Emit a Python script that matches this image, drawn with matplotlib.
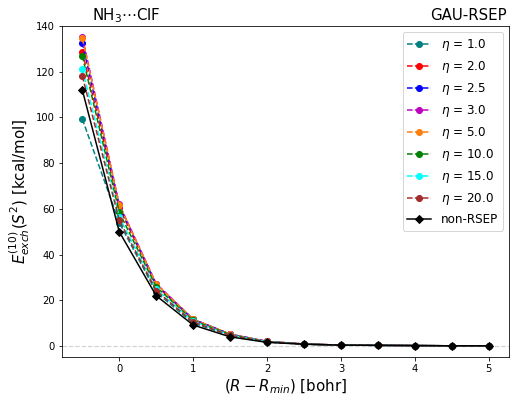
import numpy as np
import matplotlib
matplotlib.use("Agg")
import matplotlib.pyplot as plt

# distance from minimum [bohr]
r = [-0.5, 0.0, 0.5, 1.0, 1.5, 2.0, 2.5, 3.0, 3.5, 4.0, 4.5, 5.0]

etas = ["1.0", "2.0", "2.5", "3.0", "5.0", "10.0", "15.0", "20.0"]
colors = ["teal", "red", "blue", "m", "tab:orange", "green", "cyan", "brown"]

e_eta1 = [99.3, 54.0, 23.5, 10.0, 4.6, 1.8, 0.8, 0.4, 0.3, 0.2, 0.1, 0.1]
e_eta2 = [128.8, 60.5, 26.5, 11.5, 5.1, 2.0, 0.9, 0.4, 0.3, 0.2, 0.1, 0.1]
e_eta25 = [132.7, 61.5, 27.0, 11.7, 5.2, 2.0, 0.9, 0.4, 0.3, 0.2, 0.1, 0.1]
e_eta3 = [135.3, 62.0, 27.3, 11.8, 5.2, 2.0, 0.9, 0.4, 0.3, 0.2, 0.1, 0.1]
e_eta5 = [134.6, 61.8, 27.1, 11.7, 5.2, 2.0, 0.9, 0.4, 0.3, 0.2, 0.1, 0.1]
e_eta10 = [126.9, 58.5, 25.8, 11.2, 5.0, 1.9, 0.9, 0.4, 0.3, 0.2, 0.1, 0.1]
e_eta15 = [121.2, 56.5, 24.8, 10.8, 4.8, 1.9, 0.8, 0.4, 0.3, 0.2, 0.1, 0.1]
e_eta20 = [118.1, 55.0, 24.2, 10.5, 4.7, 1.8, 0.8, 0.4, 0.3, 0.2, 0.1, 0.1]
e_nonrsep = [112.0, 50.0, 22.0, 9.2, 4.0, 1.6, 0.8, 0.4, 0.3, 0.2, 0.1, 0.1]

series = [e_eta1, e_eta2, e_eta25, e_eta3, e_eta5, e_eta10, e_eta15, e_eta20]

fig = plt.figure(figsize=(515 / 72, 399 / 72), dpi=72)
ax = fig.add_axes([62 / 515, 1 - 357 / 399, (509 - 62) / 515, (357 - 26) / 399])

ax.axhline(0, color="lightgrey", ls="--", lw=1.2, zorder=0)
for eta, col, e in zip(etas, colors, series):
    ax.plot(r, e, "o--", color=col, ms=6, lw=1.5, label=r"$\eta$ = " + eta)
ax.plot(r, e_nonrsep, "D-", color="black", ms=5.5, lw=1.5, label="non-RSEP")

ax.set_ylim(-4.8, 140)
ax.set_xlim(-0.775, 5.275)
ax.set_xlabel(r"$(R-R_{min})$ [bohr]", fontsize=15)
ax.set_ylabel(r"$E^{(10)}_{exch}(S^2)$ [kcal/mol]", fontsize=15)
ax.tick_params(labelsize=10)
ax.legend(loc="upper right", fontsize=12)

fig.text(92 / 515, 1 - 16 / 399, r"NH$_3$$\cdots$ClF", fontsize=15, va="center")
fig.text(507 / 515, 1 - 16 / 399, "GAU-RSEP", fontsize=15, va="center", ha="right")

fig.savefig("out.png", dpi=72)
